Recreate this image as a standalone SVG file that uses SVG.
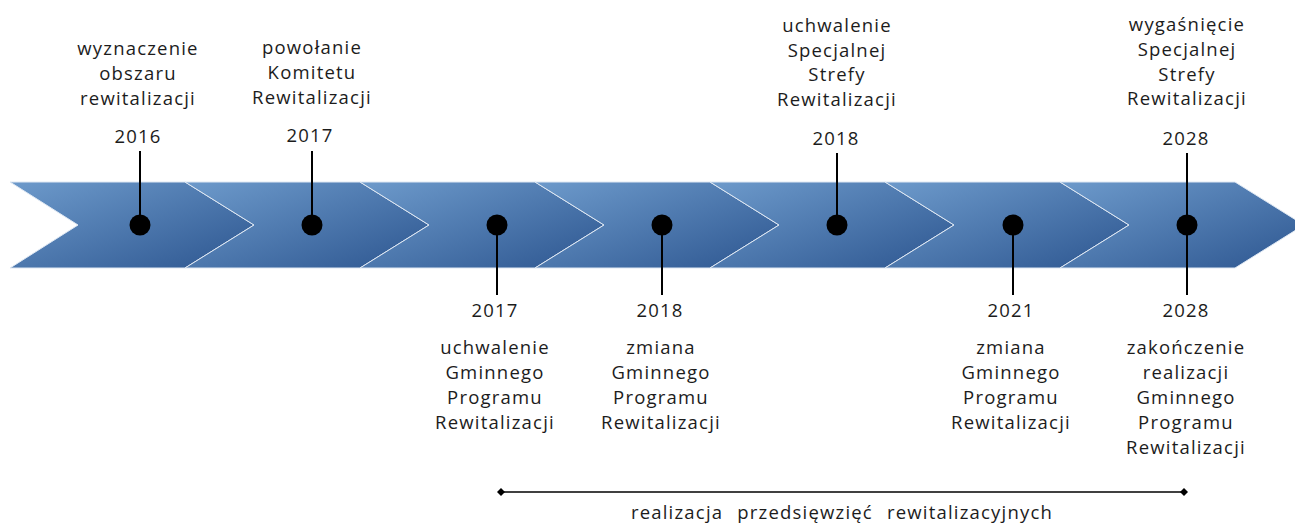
<svg xmlns="http://www.w3.org/2000/svg" width="1295" height="526" viewBox="0 0 1295 526">
  <defs>
    <linearGradient id="chev" x1="0" y1="0" x2="1" y2="1">
      <stop offset="0" stop-color="#6d9acb"/>
      <stop offset="1" stop-color="#2d5690"/>
    </linearGradient>
    <marker id="dia" viewBox="0 0 10 10" refX="5" refY="5" markerWidth="8" markerHeight="8" markerUnits="userSpaceOnUse" orient="auto">
      <path d="M0,5 L5,0 L10,5 L5,10 Z" fill="#000"/>
    </marker>
  </defs>
  <style>
    .c { fill: url(#chev); stroke: #dfe8f3; stroke-width: 1; }
    .t { font-family: "Open Sans", "Lato", sans-serif; font-size: 18.5px; letter-spacing: 1.2px; fill: #1c1c1c; text-anchor: middle; }
    .ln { stroke: #000; stroke-width: 2; fill: none; }
    .dot { fill: #000; }
  </style>
  <rect width="1295" height="526" fill="#fff"/>
  <g id="band">
    <polygon class="c" points="10,182 185,182 254,225 185,268 10,268 78,225"/>
    <polygon class="c" points="185,182 360,182 429,225 360,268 185,268 254,225"/>
    <polygon class="c" points="360,182 535,182 604,225 535,268 360,268 429,225"/>
    <polygon class="c" points="535,182 710,182 779,225 710,268 535,268 604,225"/>
    <polygon class="c" points="710,182 885,182 954,225 885,268 710,268 779,225"/>
    <polygon class="c" points="885,182 1060,182 1129,225 1060,268 885,268 954,225"/>
    <polygon class="c" points="1060,182 1235,182 1304,225 1235,268 1060,268 1129,225"/>
  </g>
  <g id="connectors">
    <line class="ln" x1="140" y1="151" x2="140" y2="225"/>
    <line class="ln" x1="312" y1="151" x2="312" y2="225"/>
    <line class="ln" x1="497" y1="225" x2="497" y2="295"/>
    <line class="ln" x1="662" y1="225" x2="662" y2="295"/>
    <line class="ln" x1="837" y1="153" x2="837" y2="225"/>
    <line class="ln" x1="1013" y1="225" x2="1013" y2="295"/>
    <line class="ln" x1="1187" y1="153" x2="1187" y2="295"/>
    <line x1="501" y1="492" x2="1184" y2="492" stroke="#000" stroke-width="1.5" marker-start="url(#dia)" marker-end="url(#dia)"/>
  </g>
  <g id="m2016">
    <circle class="dot" cx="140" cy="225" r="10.5"/>
    <text class="t" x="138" y="55">wyznaczenie</text>
    <text class="t" x="138" y="80">obszaru</text>
    <text class="t" x="138" y="105">rewitalizacji</text>
    <text class="t" x="138" y="143">2016</text>
  </g>
  <g id="m2017a">
    <circle class="dot" cx="312" cy="225" r="10.5"/>
    <text class="t" x="312" y="54">powołanie</text>
    <text class="t" x="312" y="79">Komitetu</text>
    <text class="t" x="312" y="104">Rewitalizacji</text>
    <text class="t" x="310" y="142">2017</text>
  </g>
  <g id="m2017b">
    <circle class="dot" cx="497" cy="225" r="10.5"/>
    <text class="t" x="495" y="317">2017</text>
    <text class="t" x="495" y="354">uchwalenie</text>
    <text class="t" x="495" y="379">Gminnego</text>
    <text class="t" x="495" y="404">Programu</text>
    <text class="t" x="495" y="429">Rewitalizacji</text>
  </g>
  <g id="m2018a">
    <circle class="dot" cx="662" cy="225" r="10.5"/>
    <text class="t" x="660" y="317">2018</text>
    <text class="t" x="661" y="354">zmiana</text>
    <text class="t" x="661" y="379">Gminnego</text>
    <text class="t" x="661" y="404">Programu</text>
    <text class="t" x="661" y="429">Rewitalizacji</text>
  </g>
  <g id="m2018b">
    <circle class="dot" cx="837" cy="225" r="10.5"/>
    <text class="t" x="837" y="32">uchwalenie</text>
    <text class="t" x="837" y="57">Specjalnej</text>
    <text class="t" x="837" y="81">Strefy</text>
    <text class="t" x="837" y="106">Rewitalizacji</text>
    <text class="t" x="836" y="145">2018</text>
  </g>
  <g id="m2021">
    <circle class="dot" cx="1013" cy="225" r="10.5"/>
    <text class="t" x="1011" y="317">2021</text>
    <text class="t" x="1011" y="354">zmiana</text>
    <text class="t" x="1011" y="379">Gminnego</text>
    <text class="t" x="1011" y="404">Programu</text>
    <text class="t" x="1011" y="429">Rewitalizacji</text>
  </g>
  <g id="m2028">
    <circle class="dot" cx="1187" cy="225" r="10.5"/>
    <text class="t" x="1187" y="31">wygaśnięcie</text>
    <text class="t" x="1187" y="56">Specjalnej</text>
    <text class="t" x="1187" y="81">Strefy</text>
    <text class="t" x="1187" y="105">Rewitalizacji</text>
    <text class="t" x="1186" y="145">2028</text>
    <text class="t" x="1186" y="317">2028</text>
    <text class="t" x="1186" y="354">zakończenie</text>
    <text class="t" x="1186" y="379">realizacji</text>
    <text class="t" x="1186" y="404">Gminnego</text>
    <text class="t" x="1186" y="429">Programu</text>
    <text class="t" x="1186" y="454">Rewitalizacji</text>
  </g>
  <g id="span-label">
    <text class="t" x="842" y="519" style="word-spacing: 8px">realizacja przedsięwzięć rewitalizacyjnych</text>
  </g>
</svg>
